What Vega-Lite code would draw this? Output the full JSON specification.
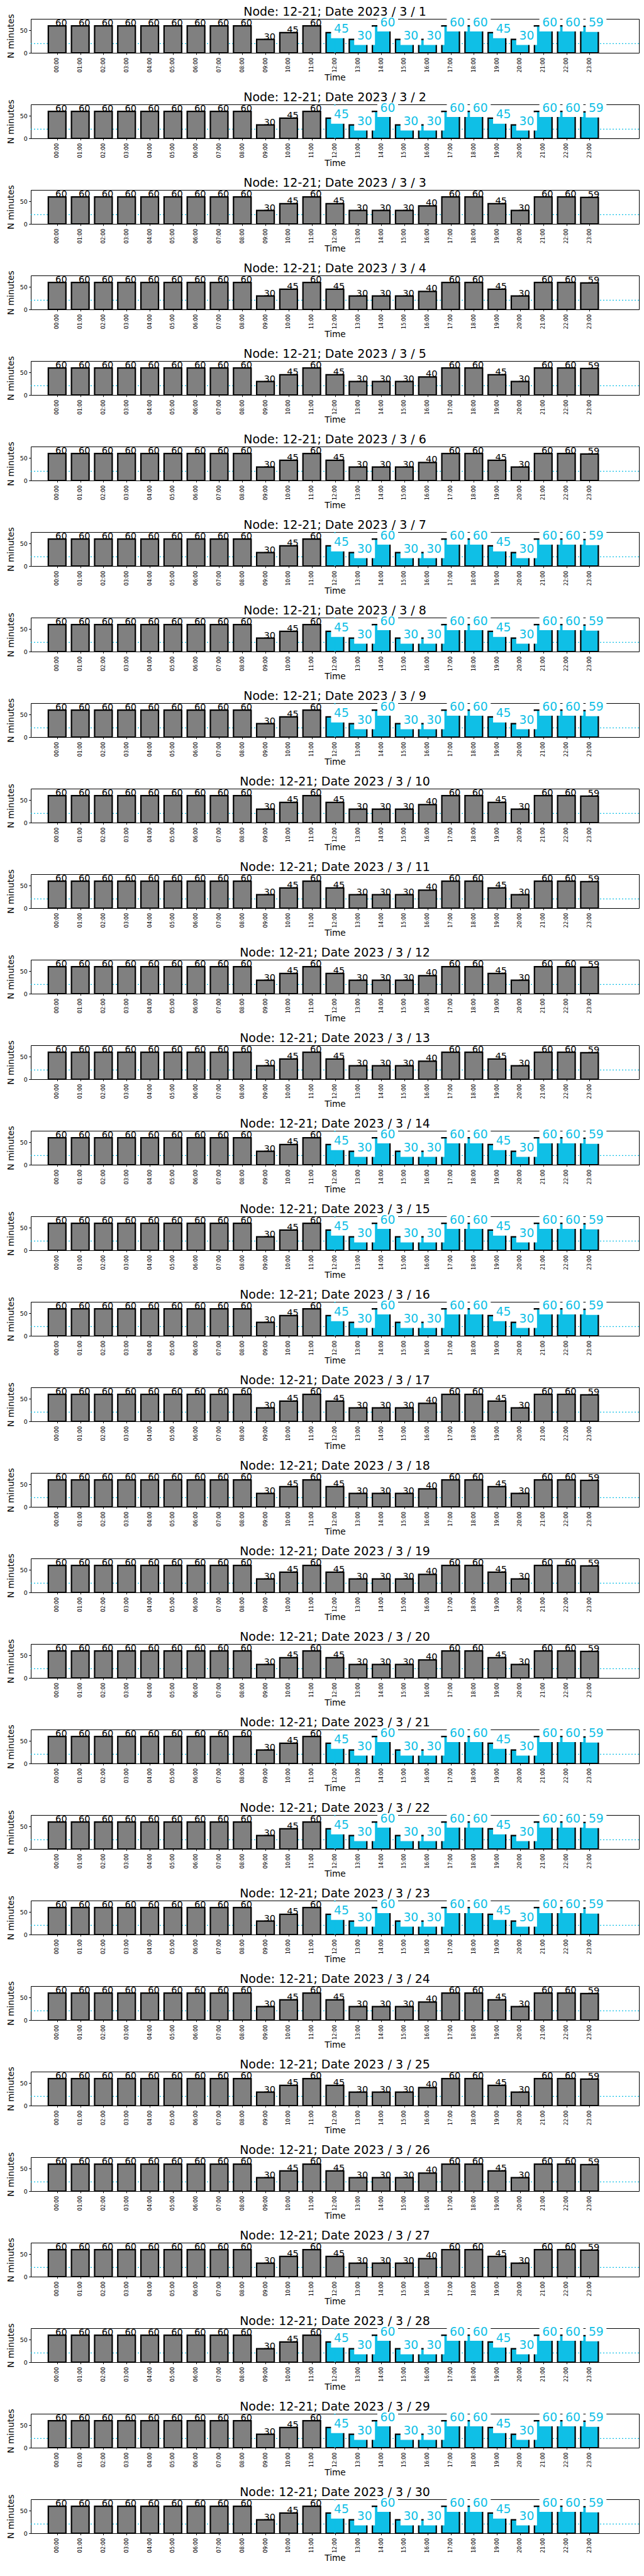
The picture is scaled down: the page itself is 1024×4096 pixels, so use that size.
{
"$schema": "https://vega.github.io/schema/vega-lite/v6.json",
"padding": {"left": 9, "top": 9, "right": 2, "bottom": 2},
"background": "white",
"data": {"values": [
{"day":1,"hour":0,"min":60,"flag":0},{"day":1,"hour":1,"min":60,"flag":0},{"day":1,"hour":2,"min":60,"flag":0},{"day":1,"hour":3,"min":60,"flag":0},{"day":1,"hour":4,"min":60,"flag":0},{"day":1,"hour":5,"min":60,"flag":0},{"day":1,"hour":6,"min":60,"flag":0},{"day":1,"hour":7,"min":60,"flag":0},{"day":1,"hour":8,"min":60,"flag":0},{"day":1,"hour":9,"min":30,"flag":0},{"day":1,"hour":10,"min":45,"flag":0},{"day":1,"hour":11,"min":60,"flag":0},
{"day":1,"hour":12,"min":45,"flag":1},{"day":1,"hour":13,"min":30,"flag":1},{"day":1,"hour":14,"min":60,"flag":1},{"day":1,"hour":15,"min":30,"flag":1},{"day":1,"hour":16,"min":30,"flag":1},{"day":1,"hour":17,"min":60,"flag":1},{"day":1,"hour":18,"min":60,"flag":1},{"day":1,"hour":19,"min":45,"flag":1},{"day":1,"hour":20,"min":30,"flag":1},{"day":1,"hour":21,"min":60,"flag":1},{"day":1,"hour":22,"min":60,"flag":1},{"day":1,"hour":23,"min":59,"flag":1},
{"day":2,"hour":0,"min":60,"flag":0},{"day":2,"hour":1,"min":60,"flag":0},{"day":2,"hour":2,"min":60,"flag":0},{"day":2,"hour":3,"min":60,"flag":0},{"day":2,"hour":4,"min":60,"flag":0},{"day":2,"hour":5,"min":60,"flag":0},{"day":2,"hour":6,"min":60,"flag":0},{"day":2,"hour":7,"min":60,"flag":0},{"day":2,"hour":8,"min":60,"flag":0},{"day":2,"hour":9,"min":30,"flag":0},{"day":2,"hour":10,"min":45,"flag":0},{"day":2,"hour":11,"min":60,"flag":0},
{"day":2,"hour":12,"min":45,"flag":1},{"day":2,"hour":13,"min":30,"flag":1},{"day":2,"hour":14,"min":60,"flag":1},{"day":2,"hour":15,"min":30,"flag":1},{"day":2,"hour":16,"min":30,"flag":1},{"day":2,"hour":17,"min":60,"flag":1},{"day":2,"hour":18,"min":60,"flag":1},{"day":2,"hour":19,"min":45,"flag":1},{"day":2,"hour":20,"min":30,"flag":1},{"day":2,"hour":21,"min":60,"flag":1},{"day":2,"hour":22,"min":60,"flag":1},{"day":2,"hour":23,"min":59,"flag":1},
{"day":3,"hour":0,"min":60,"flag":0},{"day":3,"hour":1,"min":60,"flag":0},{"day":3,"hour":2,"min":60,"flag":0},{"day":3,"hour":3,"min":60,"flag":0},{"day":3,"hour":4,"min":60,"flag":0},{"day":3,"hour":5,"min":60,"flag":0},{"day":3,"hour":6,"min":60,"flag":0},{"day":3,"hour":7,"min":60,"flag":0},{"day":3,"hour":8,"min":60,"flag":0},{"day":3,"hour":9,"min":30,"flag":0},{"day":3,"hour":10,"min":45,"flag":0},{"day":3,"hour":11,"min":60,"flag":0},
{"day":3,"hour":12,"min":45,"flag":0},{"day":3,"hour":13,"min":30,"flag":0},{"day":3,"hour":14,"min":30,"flag":0},{"day":3,"hour":15,"min":30,"flag":0},{"day":3,"hour":16,"min":40,"flag":0},{"day":3,"hour":17,"min":60,"flag":0},{"day":3,"hour":18,"min":60,"flag":0},{"day":3,"hour":19,"min":45,"flag":0},{"day":3,"hour":20,"min":30,"flag":0},{"day":3,"hour":21,"min":60,"flag":0},{"day":3,"hour":22,"min":60,"flag":0},{"day":3,"hour":23,"min":59,"flag":0},
{"day":4,"hour":0,"min":60,"flag":0},{"day":4,"hour":1,"min":60,"flag":0},{"day":4,"hour":2,"min":60,"flag":0},{"day":4,"hour":3,"min":60,"flag":0},{"day":4,"hour":4,"min":60,"flag":0},{"day":4,"hour":5,"min":60,"flag":0},{"day":4,"hour":6,"min":60,"flag":0},{"day":4,"hour":7,"min":60,"flag":0},{"day":4,"hour":8,"min":60,"flag":0},{"day":4,"hour":9,"min":30,"flag":0},{"day":4,"hour":10,"min":45,"flag":0},{"day":4,"hour":11,"min":60,"flag":0},
{"day":4,"hour":12,"min":45,"flag":0},{"day":4,"hour":13,"min":30,"flag":0},{"day":4,"hour":14,"min":30,"flag":0},{"day":4,"hour":15,"min":30,"flag":0},{"day":4,"hour":16,"min":40,"flag":0},{"day":4,"hour":17,"min":60,"flag":0},{"day":4,"hour":18,"min":60,"flag":0},{"day":4,"hour":19,"min":45,"flag":0},{"day":4,"hour":20,"min":30,"flag":0},{"day":4,"hour":21,"min":60,"flag":0},{"day":4,"hour":22,"min":60,"flag":0},{"day":4,"hour":23,"min":59,"flag":0},
{"day":5,"hour":0,"min":60,"flag":0},{"day":5,"hour":1,"min":60,"flag":0},{"day":5,"hour":2,"min":60,"flag":0},{"day":5,"hour":3,"min":60,"flag":0},{"day":5,"hour":4,"min":60,"flag":0},{"day":5,"hour":5,"min":60,"flag":0},{"day":5,"hour":6,"min":60,"flag":0},{"day":5,"hour":7,"min":60,"flag":0},{"day":5,"hour":8,"min":60,"flag":0},{"day":5,"hour":9,"min":30,"flag":0},{"day":5,"hour":10,"min":45,"flag":0},{"day":5,"hour":11,"min":60,"flag":0},
{"day":5,"hour":12,"min":45,"flag":0},{"day":5,"hour":13,"min":30,"flag":0},{"day":5,"hour":14,"min":30,"flag":0},{"day":5,"hour":15,"min":30,"flag":0},{"day":5,"hour":16,"min":40,"flag":0},{"day":5,"hour":17,"min":60,"flag":0},{"day":5,"hour":18,"min":60,"flag":0},{"day":5,"hour":19,"min":45,"flag":0},{"day":5,"hour":20,"min":30,"flag":0},{"day":5,"hour":21,"min":60,"flag":0},{"day":5,"hour":22,"min":60,"flag":0},{"day":5,"hour":23,"min":59,"flag":0},
{"day":6,"hour":0,"min":60,"flag":0},{"day":6,"hour":1,"min":60,"flag":0},{"day":6,"hour":2,"min":60,"flag":0},{"day":6,"hour":3,"min":60,"flag":0},{"day":6,"hour":4,"min":60,"flag":0},{"day":6,"hour":5,"min":60,"flag":0},{"day":6,"hour":6,"min":60,"flag":0},{"day":6,"hour":7,"min":60,"flag":0},{"day":6,"hour":8,"min":60,"flag":0},{"day":6,"hour":9,"min":30,"flag":0},{"day":6,"hour":10,"min":45,"flag":0},{"day":6,"hour":11,"min":60,"flag":0},
{"day":6,"hour":12,"min":45,"flag":0},{"day":6,"hour":13,"min":30,"flag":0},{"day":6,"hour":14,"min":30,"flag":0},{"day":6,"hour":15,"min":30,"flag":0},{"day":6,"hour":16,"min":40,"flag":0},{"day":6,"hour":17,"min":60,"flag":0},{"day":6,"hour":18,"min":60,"flag":0},{"day":6,"hour":19,"min":45,"flag":0},{"day":6,"hour":20,"min":30,"flag":0},{"day":6,"hour":21,"min":60,"flag":0},{"day":6,"hour":22,"min":60,"flag":0},{"day":6,"hour":23,"min":59,"flag":0},
{"day":7,"hour":0,"min":60,"flag":0},{"day":7,"hour":1,"min":60,"flag":0},{"day":7,"hour":2,"min":60,"flag":0},{"day":7,"hour":3,"min":60,"flag":0},{"day":7,"hour":4,"min":60,"flag":0},{"day":7,"hour":5,"min":60,"flag":0},{"day":7,"hour":6,"min":60,"flag":0},{"day":7,"hour":7,"min":60,"flag":0},{"day":7,"hour":8,"min":60,"flag":0},{"day":7,"hour":9,"min":30,"flag":0},{"day":7,"hour":10,"min":45,"flag":0},{"day":7,"hour":11,"min":60,"flag":0},
{"day":7,"hour":12,"min":45,"flag":1},{"day":7,"hour":13,"min":30,"flag":1},{"day":7,"hour":14,"min":60,"flag":1},{"day":7,"hour":15,"min":30,"flag":1},{"day":7,"hour":16,"min":30,"flag":1},{"day":7,"hour":17,"min":60,"flag":1},{"day":7,"hour":18,"min":60,"flag":1},{"day":7,"hour":19,"min":45,"flag":1},{"day":7,"hour":20,"min":30,"flag":1},{"day":7,"hour":21,"min":60,"flag":1},{"day":7,"hour":22,"min":60,"flag":1},{"day":7,"hour":23,"min":59,"flag":1},
{"day":8,"hour":0,"min":60,"flag":0},{"day":8,"hour":1,"min":60,"flag":0},{"day":8,"hour":2,"min":60,"flag":0},{"day":8,"hour":3,"min":60,"flag":0},{"day":8,"hour":4,"min":60,"flag":0},{"day":8,"hour":5,"min":60,"flag":0},{"day":8,"hour":6,"min":60,"flag":0},{"day":8,"hour":7,"min":60,"flag":0},{"day":8,"hour":8,"min":60,"flag":0},{"day":8,"hour":9,"min":30,"flag":0},{"day":8,"hour":10,"min":45,"flag":0},{"day":8,"hour":11,"min":60,"flag":0},
{"day":8,"hour":12,"min":45,"flag":1},{"day":8,"hour":13,"min":30,"flag":1},{"day":8,"hour":14,"min":60,"flag":1},{"day":8,"hour":15,"min":30,"flag":1},{"day":8,"hour":16,"min":30,"flag":1},{"day":8,"hour":17,"min":60,"flag":1},{"day":8,"hour":18,"min":60,"flag":1},{"day":8,"hour":19,"min":45,"flag":1},{"day":8,"hour":20,"min":30,"flag":1},{"day":8,"hour":21,"min":60,"flag":1},{"day":8,"hour":22,"min":60,"flag":1},{"day":8,"hour":23,"min":59,"flag":1},
{"day":9,"hour":0,"min":60,"flag":0},{"day":9,"hour":1,"min":60,"flag":0},{"day":9,"hour":2,"min":60,"flag":0},{"day":9,"hour":3,"min":60,"flag":0},{"day":9,"hour":4,"min":60,"flag":0},{"day":9,"hour":5,"min":60,"flag":0},{"day":9,"hour":6,"min":60,"flag":0},{"day":9,"hour":7,"min":60,"flag":0},{"day":9,"hour":8,"min":60,"flag":0},{"day":9,"hour":9,"min":30,"flag":0},{"day":9,"hour":10,"min":45,"flag":0},{"day":9,"hour":11,"min":60,"flag":0},
{"day":9,"hour":12,"min":45,"flag":1},{"day":9,"hour":13,"min":30,"flag":1},{"day":9,"hour":14,"min":60,"flag":1},{"day":9,"hour":15,"min":30,"flag":1},{"day":9,"hour":16,"min":30,"flag":1},{"day":9,"hour":17,"min":60,"flag":1},{"day":9,"hour":18,"min":60,"flag":1},{"day":9,"hour":19,"min":45,"flag":1},{"day":9,"hour":20,"min":30,"flag":1},{"day":9,"hour":21,"min":60,"flag":1},{"day":9,"hour":22,"min":60,"flag":1},{"day":9,"hour":23,"min":59,"flag":1},
{"day":10,"hour":0,"min":60,"flag":0},{"day":10,"hour":1,"min":60,"flag":0},{"day":10,"hour":2,"min":60,"flag":0},{"day":10,"hour":3,"min":60,"flag":0},{"day":10,"hour":4,"min":60,"flag":0},{"day":10,"hour":5,"min":60,"flag":0},{"day":10,"hour":6,"min":60,"flag":0},{"day":10,"hour":7,"min":60,"flag":0},{"day":10,"hour":8,"min":60,"flag":0},{"day":10,"hour":9,"min":30,"flag":0},{"day":10,"hour":10,"min":45,"flag":0},{"day":10,"hour":11,"min":60,"flag":0},
{"day":10,"hour":12,"min":45,"flag":0},{"day":10,"hour":13,"min":30,"flag":0},{"day":10,"hour":14,"min":30,"flag":0},{"day":10,"hour":15,"min":30,"flag":0},{"day":10,"hour":16,"min":40,"flag":0},{"day":10,"hour":17,"min":60,"flag":0},{"day":10,"hour":18,"min":60,"flag":0},{"day":10,"hour":19,"min":45,"flag":0},{"day":10,"hour":20,"min":30,"flag":0},{"day":10,"hour":21,"min":60,"flag":0},{"day":10,"hour":22,"min":60,"flag":0},{"day":10,"hour":23,"min":59,"flag":0},
{"day":11,"hour":0,"min":60,"flag":0},{"day":11,"hour":1,"min":60,"flag":0},{"day":11,"hour":2,"min":60,"flag":0},{"day":11,"hour":3,"min":60,"flag":0},{"day":11,"hour":4,"min":60,"flag":0},{"day":11,"hour":5,"min":60,"flag":0},{"day":11,"hour":6,"min":60,"flag":0},{"day":11,"hour":7,"min":60,"flag":0},{"day":11,"hour":8,"min":60,"flag":0},{"day":11,"hour":9,"min":30,"flag":0},{"day":11,"hour":10,"min":45,"flag":0},{"day":11,"hour":11,"min":60,"flag":0},
{"day":11,"hour":12,"min":45,"flag":0},{"day":11,"hour":13,"min":30,"flag":0},{"day":11,"hour":14,"min":30,"flag":0},{"day":11,"hour":15,"min":30,"flag":0},{"day":11,"hour":16,"min":40,"flag":0},{"day":11,"hour":17,"min":60,"flag":0},{"day":11,"hour":18,"min":60,"flag":0},{"day":11,"hour":19,"min":45,"flag":0},{"day":11,"hour":20,"min":30,"flag":0},{"day":11,"hour":21,"min":60,"flag":0},{"day":11,"hour":22,"min":60,"flag":0},{"day":11,"hour":23,"min":59,"flag":0},
{"day":12,"hour":0,"min":60,"flag":0},{"day":12,"hour":1,"min":60,"flag":0},{"day":12,"hour":2,"min":60,"flag":0},{"day":12,"hour":3,"min":60,"flag":0},{"day":12,"hour":4,"min":60,"flag":0},{"day":12,"hour":5,"min":60,"flag":0},{"day":12,"hour":6,"min":60,"flag":0},{"day":12,"hour":7,"min":60,"flag":0},{"day":12,"hour":8,"min":60,"flag":0},{"day":12,"hour":9,"min":30,"flag":0},{"day":12,"hour":10,"min":45,"flag":0},{"day":12,"hour":11,"min":60,"flag":0},
{"day":12,"hour":12,"min":45,"flag":0},{"day":12,"hour":13,"min":30,"flag":0},{"day":12,"hour":14,"min":30,"flag":0},{"day":12,"hour":15,"min":30,"flag":0},{"day":12,"hour":16,"min":40,"flag":0},{"day":12,"hour":17,"min":60,"flag":0},{"day":12,"hour":18,"min":60,"flag":0},{"day":12,"hour":19,"min":45,"flag":0},{"day":12,"hour":20,"min":30,"flag":0},{"day":12,"hour":21,"min":60,"flag":0},{"day":12,"hour":22,"min":60,"flag":0},{"day":12,"hour":23,"min":59,"flag":0},
{"day":13,"hour":0,"min":60,"flag":0},{"day":13,"hour":1,"min":60,"flag":0},{"day":13,"hour":2,"min":60,"flag":0},{"day":13,"hour":3,"min":60,"flag":0},{"day":13,"hour":4,"min":60,"flag":0},{"day":13,"hour":5,"min":60,"flag":0},{"day":13,"hour":6,"min":60,"flag":0},{"day":13,"hour":7,"min":60,"flag":0},{"day":13,"hour":8,"min":60,"flag":0},{"day":13,"hour":9,"min":30,"flag":0},{"day":13,"hour":10,"min":45,"flag":0},{"day":13,"hour":11,"min":60,"flag":0},
{"day":13,"hour":12,"min":45,"flag":0},{"day":13,"hour":13,"min":30,"flag":0},{"day":13,"hour":14,"min":30,"flag":0},{"day":13,"hour":15,"min":30,"flag":0},{"day":13,"hour":16,"min":40,"flag":0},{"day":13,"hour":17,"min":60,"flag":0},{"day":13,"hour":18,"min":60,"flag":0},{"day":13,"hour":19,"min":45,"flag":0},{"day":13,"hour":20,"min":30,"flag":0},{"day":13,"hour":21,"min":60,"flag":0},{"day":13,"hour":22,"min":60,"flag":0},{"day":13,"hour":23,"min":59,"flag":0},
{"day":14,"hour":0,"min":60,"flag":0},{"day":14,"hour":1,"min":60,"flag":0},{"day":14,"hour":2,"min":60,"flag":0},{"day":14,"hour":3,"min":60,"flag":0},{"day":14,"hour":4,"min":60,"flag":0},{"day":14,"hour":5,"min":60,"flag":0},{"day":14,"hour":6,"min":60,"flag":0},{"day":14,"hour":7,"min":60,"flag":0},{"day":14,"hour":8,"min":60,"flag":0},{"day":14,"hour":9,"min":30,"flag":0},{"day":14,"hour":10,"min":45,"flag":0},{"day":14,"hour":11,"min":60,"flag":0},
{"day":14,"hour":12,"min":45,"flag":1},{"day":14,"hour":13,"min":30,"flag":1},{"day":14,"hour":14,"min":60,"flag":1},{"day":14,"hour":15,"min":30,"flag":1},{"day":14,"hour":16,"min":30,"flag":1},{"day":14,"hour":17,"min":60,"flag":1},{"day":14,"hour":18,"min":60,"flag":1},{"day":14,"hour":19,"min":45,"flag":1},{"day":14,"hour":20,"min":30,"flag":1},{"day":14,"hour":21,"min":60,"flag":1},{"day":14,"hour":22,"min":60,"flag":1},{"day":14,"hour":23,"min":59,"flag":1},
{"day":15,"hour":0,"min":60,"flag":0},{"day":15,"hour":1,"min":60,"flag":0},{"day":15,"hour":2,"min":60,"flag":0},{"day":15,"hour":3,"min":60,"flag":0},{"day":15,"hour":4,"min":60,"flag":0},{"day":15,"hour":5,"min":60,"flag":0},{"day":15,"hour":6,"min":60,"flag":0},{"day":15,"hour":7,"min":60,"flag":0},{"day":15,"hour":8,"min":60,"flag":0},{"day":15,"hour":9,"min":30,"flag":0},{"day":15,"hour":10,"min":45,"flag":0},{"day":15,"hour":11,"min":60,"flag":0},
{"day":15,"hour":12,"min":45,"flag":1},{"day":15,"hour":13,"min":30,"flag":1},{"day":15,"hour":14,"min":60,"flag":1},{"day":15,"hour":15,"min":30,"flag":1},{"day":15,"hour":16,"min":30,"flag":1},{"day":15,"hour":17,"min":60,"flag":1},{"day":15,"hour":18,"min":60,"flag":1},{"day":15,"hour":19,"min":45,"flag":1},{"day":15,"hour":20,"min":30,"flag":1},{"day":15,"hour":21,"min":60,"flag":1},{"day":15,"hour":22,"min":60,"flag":1},{"day":15,"hour":23,"min":59,"flag":1},
{"day":16,"hour":0,"min":60,"flag":0},{"day":16,"hour":1,"min":60,"flag":0},{"day":16,"hour":2,"min":60,"flag":0},{"day":16,"hour":3,"min":60,"flag":0},{"day":16,"hour":4,"min":60,"flag":0},{"day":16,"hour":5,"min":60,"flag":0},{"day":16,"hour":6,"min":60,"flag":0},{"day":16,"hour":7,"min":60,"flag":0},{"day":16,"hour":8,"min":60,"flag":0},{"day":16,"hour":9,"min":30,"flag":0},{"day":16,"hour":10,"min":45,"flag":0},{"day":16,"hour":11,"min":60,"flag":0},
{"day":16,"hour":12,"min":45,"flag":1},{"day":16,"hour":13,"min":30,"flag":1},{"day":16,"hour":14,"min":60,"flag":1},{"day":16,"hour":15,"min":30,"flag":1},{"day":16,"hour":16,"min":30,"flag":1},{"day":16,"hour":17,"min":60,"flag":1},{"day":16,"hour":18,"min":60,"flag":1},{"day":16,"hour":19,"min":45,"flag":1},{"day":16,"hour":20,"min":30,"flag":1},{"day":16,"hour":21,"min":60,"flag":1},{"day":16,"hour":22,"min":60,"flag":1},{"day":16,"hour":23,"min":59,"flag":1},
{"day":17,"hour":0,"min":60,"flag":0},{"day":17,"hour":1,"min":60,"flag":0},{"day":17,"hour":2,"min":60,"flag":0},{"day":17,"hour":3,"min":60,"flag":0},{"day":17,"hour":4,"min":60,"flag":0},{"day":17,"hour":5,"min":60,"flag":0},{"day":17,"hour":6,"min":60,"flag":0},{"day":17,"hour":7,"min":60,"flag":0},{"day":17,"hour":8,"min":60,"flag":0},{"day":17,"hour":9,"min":30,"flag":0},{"day":17,"hour":10,"min":45,"flag":0},{"day":17,"hour":11,"min":60,"flag":0},
{"day":17,"hour":12,"min":45,"flag":0},{"day":17,"hour":13,"min":30,"flag":0},{"day":17,"hour":14,"min":30,"flag":0},{"day":17,"hour":15,"min":30,"flag":0},{"day":17,"hour":16,"min":40,"flag":0},{"day":17,"hour":17,"min":60,"flag":0},{"day":17,"hour":18,"min":60,"flag":0},{"day":17,"hour":19,"min":45,"flag":0},{"day":17,"hour":20,"min":30,"flag":0},{"day":17,"hour":21,"min":60,"flag":0},{"day":17,"hour":22,"min":60,"flag":0},{"day":17,"hour":23,"min":59,"flag":0},
{"day":18,"hour":0,"min":60,"flag":0},{"day":18,"hour":1,"min":60,"flag":0},{"day":18,"hour":2,"min":60,"flag":0},{"day":18,"hour":3,"min":60,"flag":0},{"day":18,"hour":4,"min":60,"flag":0},{"day":18,"hour":5,"min":60,"flag":0},{"day":18,"hour":6,"min":60,"flag":0},{"day":18,"hour":7,"min":60,"flag":0},{"day":18,"hour":8,"min":60,"flag":0},{"day":18,"hour":9,"min":30,"flag":0},{"day":18,"hour":10,"min":45,"flag":0},{"day":18,"hour":11,"min":60,"flag":0},
{"day":18,"hour":12,"min":45,"flag":0},{"day":18,"hour":13,"min":30,"flag":0},{"day":18,"hour":14,"min":30,"flag":0},{"day":18,"hour":15,"min":30,"flag":0},{"day":18,"hour":16,"min":40,"flag":0},{"day":18,"hour":17,"min":60,"flag":0},{"day":18,"hour":18,"min":60,"flag":0},{"day":18,"hour":19,"min":45,"flag":0},{"day":18,"hour":20,"min":30,"flag":0},{"day":18,"hour":21,"min":60,"flag":0},{"day":18,"hour":22,"min":60,"flag":0},{"day":18,"hour":23,"min":59,"flag":0},
{"day":19,"hour":0,"min":60,"flag":0},{"day":19,"hour":1,"min":60,"flag":0},{"day":19,"hour":2,"min":60,"flag":0},{"day":19,"hour":3,"min":60,"flag":0},{"day":19,"hour":4,"min":60,"flag":0},{"day":19,"hour":5,"min":60,"flag":0},{"day":19,"hour":6,"min":60,"flag":0},{"day":19,"hour":7,"min":60,"flag":0},{"day":19,"hour":8,"min":60,"flag":0},{"day":19,"hour":9,"min":30,"flag":0},{"day":19,"hour":10,"min":45,"flag":0},{"day":19,"hour":11,"min":60,"flag":0},
{"day":19,"hour":12,"min":45,"flag":0},{"day":19,"hour":13,"min":30,"flag":0},{"day":19,"hour":14,"min":30,"flag":0},{"day":19,"hour":15,"min":30,"flag":0},{"day":19,"hour":16,"min":40,"flag":0},{"day":19,"hour":17,"min":60,"flag":0},{"day":19,"hour":18,"min":60,"flag":0},{"day":19,"hour":19,"min":45,"flag":0},{"day":19,"hour":20,"min":30,"flag":0},{"day":19,"hour":21,"min":60,"flag":0},{"day":19,"hour":22,"min":60,"flag":0},{"day":19,"hour":23,"min":59,"flag":0},
{"day":20,"hour":0,"min":60,"flag":0},{"day":20,"hour":1,"min":60,"flag":0},{"day":20,"hour":2,"min":60,"flag":0},{"day":20,"hour":3,"min":60,"flag":0},{"day":20,"hour":4,"min":60,"flag":0},{"day":20,"hour":5,"min":60,"flag":0},{"day":20,"hour":6,"min":60,"flag":0},{"day":20,"hour":7,"min":60,"flag":0},{"day":20,"hour":8,"min":60,"flag":0},{"day":20,"hour":9,"min":30,"flag":0},{"day":20,"hour":10,"min":45,"flag":0},{"day":20,"hour":11,"min":60,"flag":0},
{"day":20,"hour":12,"min":45,"flag":0},{"day":20,"hour":13,"min":30,"flag":0},{"day":20,"hour":14,"min":30,"flag":0},{"day":20,"hour":15,"min":30,"flag":0},{"day":20,"hour":16,"min":40,"flag":0},{"day":20,"hour":17,"min":60,"flag":0},{"day":20,"hour":18,"min":60,"flag":0},{"day":20,"hour":19,"min":45,"flag":0},{"day":20,"hour":20,"min":30,"flag":0},{"day":20,"hour":21,"min":60,"flag":0},{"day":20,"hour":22,"min":60,"flag":0},{"day":20,"hour":23,"min":59,"flag":0},
{"day":21,"hour":0,"min":60,"flag":0},{"day":21,"hour":1,"min":60,"flag":0},{"day":21,"hour":2,"min":60,"flag":0},{"day":21,"hour":3,"min":60,"flag":0},{"day":21,"hour":4,"min":60,"flag":0},{"day":21,"hour":5,"min":60,"flag":0},{"day":21,"hour":6,"min":60,"flag":0},{"day":21,"hour":7,"min":60,"flag":0},{"day":21,"hour":8,"min":60,"flag":0},{"day":21,"hour":9,"min":30,"flag":0},{"day":21,"hour":10,"min":45,"flag":0},{"day":21,"hour":11,"min":60,"flag":0},
{"day":21,"hour":12,"min":45,"flag":1},{"day":21,"hour":13,"min":30,"flag":1},{"day":21,"hour":14,"min":60,"flag":1},{"day":21,"hour":15,"min":30,"flag":1},{"day":21,"hour":16,"min":30,"flag":1},{"day":21,"hour":17,"min":60,"flag":1},{"day":21,"hour":18,"min":60,"flag":1},{"day":21,"hour":19,"min":45,"flag":1},{"day":21,"hour":20,"min":30,"flag":1},{"day":21,"hour":21,"min":60,"flag":1},{"day":21,"hour":22,"min":60,"flag":1},{"day":21,"hour":23,"min":59,"flag":1},
{"day":22,"hour":0,"min":60,"flag":0},{"day":22,"hour":1,"min":60,"flag":0},{"day":22,"hour":2,"min":60,"flag":0},{"day":22,"hour":3,"min":60,"flag":0},{"day":22,"hour":4,"min":60,"flag":0},{"day":22,"hour":5,"min":60,"flag":0},{"day":22,"hour":6,"min":60,"flag":0},{"day":22,"hour":7,"min":60,"flag":0},{"day":22,"hour":8,"min":60,"flag":0},{"day":22,"hour":9,"min":30,"flag":0},{"day":22,"hour":10,"min":45,"flag":0},{"day":22,"hour":11,"min":60,"flag":0},
{"day":22,"hour":12,"min":45,"flag":1},{"day":22,"hour":13,"min":30,"flag":1},{"day":22,"hour":14,"min":60,"flag":1},{"day":22,"hour":15,"min":30,"flag":1},{"day":22,"hour":16,"min":30,"flag":1},{"day":22,"hour":17,"min":60,"flag":1},{"day":22,"hour":18,"min":60,"flag":1},{"day":22,"hour":19,"min":45,"flag":1},{"day":22,"hour":20,"min":30,"flag":1},{"day":22,"hour":21,"min":60,"flag":1},{"day":22,"hour":22,"min":60,"flag":1},{"day":22,"hour":23,"min":59,"flag":1},
{"day":23,"hour":0,"min":60,"flag":0},{"day":23,"hour":1,"min":60,"flag":0},{"day":23,"hour":2,"min":60,"flag":0},{"day":23,"hour":3,"min":60,"flag":0},{"day":23,"hour":4,"min":60,"flag":0},{"day":23,"hour":5,"min":60,"flag":0},{"day":23,"hour":6,"min":60,"flag":0},{"day":23,"hour":7,"min":60,"flag":0},{"day":23,"hour":8,"min":60,"flag":0},{"day":23,"hour":9,"min":30,"flag":0},{"day":23,"hour":10,"min":45,"flag":0},{"day":23,"hour":11,"min":60,"flag":0},
{"day":23,"hour":12,"min":45,"flag":1},{"day":23,"hour":13,"min":30,"flag":1},{"day":23,"hour":14,"min":60,"flag":1},{"day":23,"hour":15,"min":30,"flag":1},{"day":23,"hour":16,"min":30,"flag":1},{"day":23,"hour":17,"min":60,"flag":1},{"day":23,"hour":18,"min":60,"flag":1},{"day":23,"hour":19,"min":45,"flag":1},{"day":23,"hour":20,"min":30,"flag":1},{"day":23,"hour":21,"min":60,"flag":1},{"day":23,"hour":22,"min":60,"flag":1},{"day":23,"hour":23,"min":59,"flag":1},
{"day":24,"hour":0,"min":60,"flag":0},{"day":24,"hour":1,"min":60,"flag":0},{"day":24,"hour":2,"min":60,"flag":0},{"day":24,"hour":3,"min":60,"flag":0},{"day":24,"hour":4,"min":60,"flag":0},{"day":24,"hour":5,"min":60,"flag":0},{"day":24,"hour":6,"min":60,"flag":0},{"day":24,"hour":7,"min":60,"flag":0},{"day":24,"hour":8,"min":60,"flag":0},{"day":24,"hour":9,"min":30,"flag":0},{"day":24,"hour":10,"min":45,"flag":0},{"day":24,"hour":11,"min":60,"flag":0},
{"day":24,"hour":12,"min":45,"flag":0},{"day":24,"hour":13,"min":30,"flag":0},{"day":24,"hour":14,"min":30,"flag":0},{"day":24,"hour":15,"min":30,"flag":0},{"day":24,"hour":16,"min":40,"flag":0},{"day":24,"hour":17,"min":60,"flag":0},{"day":24,"hour":18,"min":60,"flag":0},{"day":24,"hour":19,"min":45,"flag":0},{"day":24,"hour":20,"min":30,"flag":0},{"day":24,"hour":21,"min":60,"flag":0},{"day":24,"hour":22,"min":60,"flag":0},{"day":24,"hour":23,"min":59,"flag":0},
{"day":25,"hour":0,"min":60,"flag":0},{"day":25,"hour":1,"min":60,"flag":0},{"day":25,"hour":2,"min":60,"flag":0},{"day":25,"hour":3,"min":60,"flag":0},{"day":25,"hour":4,"min":60,"flag":0},{"day":25,"hour":5,"min":60,"flag":0},{"day":25,"hour":6,"min":60,"flag":0},{"day":25,"hour":7,"min":60,"flag":0},{"day":25,"hour":8,"min":60,"flag":0},{"day":25,"hour":9,"min":30,"flag":0},{"day":25,"hour":10,"min":45,"flag":0},{"day":25,"hour":11,"min":60,"flag":0},
{"day":25,"hour":12,"min":45,"flag":0},{"day":25,"hour":13,"min":30,"flag":0},{"day":25,"hour":14,"min":30,"flag":0},{"day":25,"hour":15,"min":30,"flag":0},{"day":25,"hour":16,"min":40,"flag":0},{"day":25,"hour":17,"min":60,"flag":0},{"day":25,"hour":18,"min":60,"flag":0},{"day":25,"hour":19,"min":45,"flag":0},{"day":25,"hour":20,"min":30,"flag":0},{"day":25,"hour":21,"min":60,"flag":0},{"day":25,"hour":22,"min":60,"flag":0},{"day":25,"hour":23,"min":59,"flag":0},
{"day":26,"hour":0,"min":60,"flag":0},{"day":26,"hour":1,"min":60,"flag":0},{"day":26,"hour":2,"min":60,"flag":0},{"day":26,"hour":3,"min":60,"flag":0},{"day":26,"hour":4,"min":60,"flag":0},{"day":26,"hour":5,"min":60,"flag":0},{"day":26,"hour":6,"min":60,"flag":0},{"day":26,"hour":7,"min":60,"flag":0},{"day":26,"hour":8,"min":60,"flag":0},{"day":26,"hour":9,"min":30,"flag":0},{"day":26,"hour":10,"min":45,"flag":0},{"day":26,"hour":11,"min":60,"flag":0},
{"day":26,"hour":12,"min":45,"flag":0},{"day":26,"hour":13,"min":30,"flag":0},{"day":26,"hour":14,"min":30,"flag":0},{"day":26,"hour":15,"min":30,"flag":0},{"day":26,"hour":16,"min":40,"flag":0},{"day":26,"hour":17,"min":60,"flag":0},{"day":26,"hour":18,"min":60,"flag":0},{"day":26,"hour":19,"min":45,"flag":0},{"day":26,"hour":20,"min":30,"flag":0},{"day":26,"hour":21,"min":60,"flag":0},{"day":26,"hour":22,"min":60,"flag":0},{"day":26,"hour":23,"min":59,"flag":0},
{"day":27,"hour":0,"min":60,"flag":0},{"day":27,"hour":1,"min":60,"flag":0},{"day":27,"hour":2,"min":60,"flag":0},{"day":27,"hour":3,"min":60,"flag":0},{"day":27,"hour":4,"min":60,"flag":0},{"day":27,"hour":5,"min":60,"flag":0},{"day":27,"hour":6,"min":60,"flag":0},{"day":27,"hour":7,"min":60,"flag":0},{"day":27,"hour":8,"min":60,"flag":0},{"day":27,"hour":9,"min":30,"flag":0},{"day":27,"hour":10,"min":45,"flag":0},{"day":27,"hour":11,"min":60,"flag":0},
{"day":27,"hour":12,"min":45,"flag":0},{"day":27,"hour":13,"min":30,"flag":0},{"day":27,"hour":14,"min":30,"flag":0},{"day":27,"hour":15,"min":30,"flag":0},{"day":27,"hour":16,"min":40,"flag":0},{"day":27,"hour":17,"min":60,"flag":0},{"day":27,"hour":18,"min":60,"flag":0},{"day":27,"hour":19,"min":45,"flag":0},{"day":27,"hour":20,"min":30,"flag":0},{"day":27,"hour":21,"min":60,"flag":0},{"day":27,"hour":22,"min":60,"flag":0},{"day":27,"hour":23,"min":59,"flag":0},
{"day":28,"hour":0,"min":60,"flag":0},{"day":28,"hour":1,"min":60,"flag":0},{"day":28,"hour":2,"min":60,"flag":0},{"day":28,"hour":3,"min":60,"flag":0},{"day":28,"hour":4,"min":60,"flag":0},{"day":28,"hour":5,"min":60,"flag":0},{"day":28,"hour":6,"min":60,"flag":0},{"day":28,"hour":7,"min":60,"flag":0},{"day":28,"hour":8,"min":60,"flag":0},{"day":28,"hour":9,"min":30,"flag":0},{"day":28,"hour":10,"min":45,"flag":0},{"day":28,"hour":11,"min":60,"flag":0},
{"day":28,"hour":12,"min":45,"flag":1},{"day":28,"hour":13,"min":30,"flag":1},{"day":28,"hour":14,"min":60,"flag":1},{"day":28,"hour":15,"min":30,"flag":1},{"day":28,"hour":16,"min":30,"flag":1},{"day":28,"hour":17,"min":60,"flag":1},{"day":28,"hour":18,"min":60,"flag":1},{"day":28,"hour":19,"min":45,"flag":1},{"day":28,"hour":20,"min":30,"flag":1},{"day":28,"hour":21,"min":60,"flag":1},{"day":28,"hour":22,"min":60,"flag":1},{"day":28,"hour":23,"min":59,"flag":1},
{"day":29,"hour":0,"min":60,"flag":0},{"day":29,"hour":1,"min":60,"flag":0},{"day":29,"hour":2,"min":60,"flag":0},{"day":29,"hour":3,"min":60,"flag":0},{"day":29,"hour":4,"min":60,"flag":0},{"day":29,"hour":5,"min":60,"flag":0},{"day":29,"hour":6,"min":60,"flag":0},{"day":29,"hour":7,"min":60,"flag":0},{"day":29,"hour":8,"min":60,"flag":0},{"day":29,"hour":9,"min":30,"flag":0},{"day":29,"hour":10,"min":45,"flag":0},{"day":29,"hour":11,"min":60,"flag":0},
{"day":29,"hour":12,"min":45,"flag":1},{"day":29,"hour":13,"min":30,"flag":1},{"day":29,"hour":14,"min":60,"flag":1},{"day":29,"hour":15,"min":30,"flag":1},{"day":29,"hour":16,"min":30,"flag":1},{"day":29,"hour":17,"min":60,"flag":1},{"day":29,"hour":18,"min":60,"flag":1},{"day":29,"hour":19,"min":45,"flag":1},{"day":29,"hour":20,"min":30,"flag":1},{"day":29,"hour":21,"min":60,"flag":1},{"day":29,"hour":22,"min":60,"flag":1},{"day":29,"hour":23,"min":59,"flag":1},
{"day":30,"hour":0,"min":60,"flag":0},{"day":30,"hour":1,"min":60,"flag":0},{"day":30,"hour":2,"min":60,"flag":0},{"day":30,"hour":3,"min":60,"flag":0},{"day":30,"hour":4,"min":60,"flag":0},{"day":30,"hour":5,"min":60,"flag":0},{"day":30,"hour":6,"min":60,"flag":0},{"day":30,"hour":7,"min":60,"flag":0},{"day":30,"hour":8,"min":60,"flag":0},{"day":30,"hour":9,"min":30,"flag":0},{"day":30,"hour":10,"min":45,"flag":0},{"day":30,"hour":11,"min":60,"flag":0},
{"day":30,"hour":12,"min":45,"flag":1},{"day":30,"hour":13,"min":30,"flag":1},{"day":30,"hour":14,"min":60,"flag":1},{"day":30,"hour":15,"min":30,"flag":1},{"day":30,"hour":16,"min":30,"flag":1},{"day":30,"hour":17,"min":60,"flag":1},{"day":30,"hour":18,"min":60,"flag":1},{"day":30,"hour":19,"min":45,"flag":1},{"day":30,"hour":20,"min":30,"flag":1},{"day":30,"hour":21,"min":60,"flag":1},{"day":30,"hour":22,"min":60,"flag":1},{"day":30,"hour":23,"min":59,"flag":1}
]},
"facet": {"row": {"field": "day", "type": "ordinal", "title": null, "header": {"labels": false, "title": null}}},
"spacing": 14,
"resolve": {"axis": {"x": "independent", "y": "independent"}},
"spec": {
  "width": 967,
  "height": 54,
  "encoding": {
    "x": {"field": "hour", "type": "quantitative", "title": "Time",
          "scale": {"domain": [-1, 25], "nice": false, "zero": false},
          "axis": {"values": [0,1,2,3,4,5,6,7,8,9,10,11,12,13,14,15,16,17,18,19,20,21,22,23],
                   "labelExpr": "(datum.value < 10 ? '0' : '') + datum.value + ':00'",
                   "labelAngle": -90, "labelFontSize": 8.2, "tickSize": 2.7, "labelPadding": 4.5,
                   "titleFontSize": 13.7, "titlePadding": 2, "labelFlush": false, "labelOverlap": false}},
    "y": {"field": "min", "type": "quantitative", "title": "N minutes",
          "scale": {"domain": [0, 75.5], "nice": false},
          "axis": {"values": [0, 50], "labelFontSize": 9.5, "tickSize": 3.3, "labelPadding": 2.3,
                   "titleFontSize": 13.8, "titlePadding": 7}}
  },
  "layer": [
    {
      "transform": [{"filter": "datum.hour == 0"}],
      "mark": {"type": "rule", "color": "#0fbfe6", "strokeDash": [2, 3], "strokeWidth": 1.4},
      "encoding": {"x": null, "y": {"datum": 20.5, "type": "quantitative"}}
    },
    {
      "mark": {"type": "bar", "orient": "vertical", "size": 28, "stroke": "black", "strokeWidth": 2.2},
      "encoding": {
        "color": {"field": "flag", "type": "nominal", "scale": {"domain": [0, 1], "range": ["#808080", "#0fbfe6"]}, "legend": null}
      }
    },
    {
      "transform": [{"filter": "datum.flag == 1 && datum.hour == 12"}],
      "mark": {"type": "rule", "color": "#0fbfe6", "strokeWidth": 2},
      "encoding": {"y": null}
    },
    {
      "transform": [{"filter": "datum.flag == 1"}],
      "mark": {"type": "rect", "fill": "white", "xOffset": -6.1, "x2Offset": 26.9, "yOffset": -20.1, "y2Offset": 8.9},
      "encoding": {
        "x2": {"field": "hour"},
        "y2": {"field": "min"}
      }
    },
    {
      "transform": [{"filter": "datum.flag == 0"}],
      "mark": {"type": "text", "align": "left", "baseline": "alphabetic", "dx": -2.7, "fontSize": 14.6, "color": "black"},
      "encoding": {
        "text": {"field": "min", "type": "quantitative"}
      }
    },
    {
      "transform": [{"filter": "datum.flag == 1"}],
      "mark": {"type": "text", "align": "left", "baseline": "alphabetic", "dx": -1.5, "dy": 0.5, "fontSize": 18.8, "color": "#0fbfe6"},
      "encoding": {
        "text": {"field": "min", "type": "quantitative"}
      }
    },
    {
      "transform": [{"filter": "datum.hour == 0"}, {"calculate": "'Node: 12-21; Date 2023 / 3 / ' + datum.day", "as": "label"}],
      "mark": {"type": "text", "align": "center", "baseline": "alphabetic", "dy": -5.5, "fontSize": 19, "color": "black"},
      "encoding": {
        "x": {"datum": 12, "type": "quantitative"},
        "y": {"datum": 75.5, "type": "quantitative"},
        "text": {"field": "label", "type": "nominal"}
      }
    }
  ]
},
"config": {
  "font": "DejaVu Sans",
  "view": {"stroke": "black", "strokeWidth": 1},
  "axis": {"grid": false, "domain": false, "labelColor": "black", "tickColor": "black", "titleColor": "black", "titleFontWeight": "normal", "labelFont": "DejaVu Sans", "titleFont": "DejaVu Sans"},
  "text": {"font": "DejaVu Sans"}
}
}
